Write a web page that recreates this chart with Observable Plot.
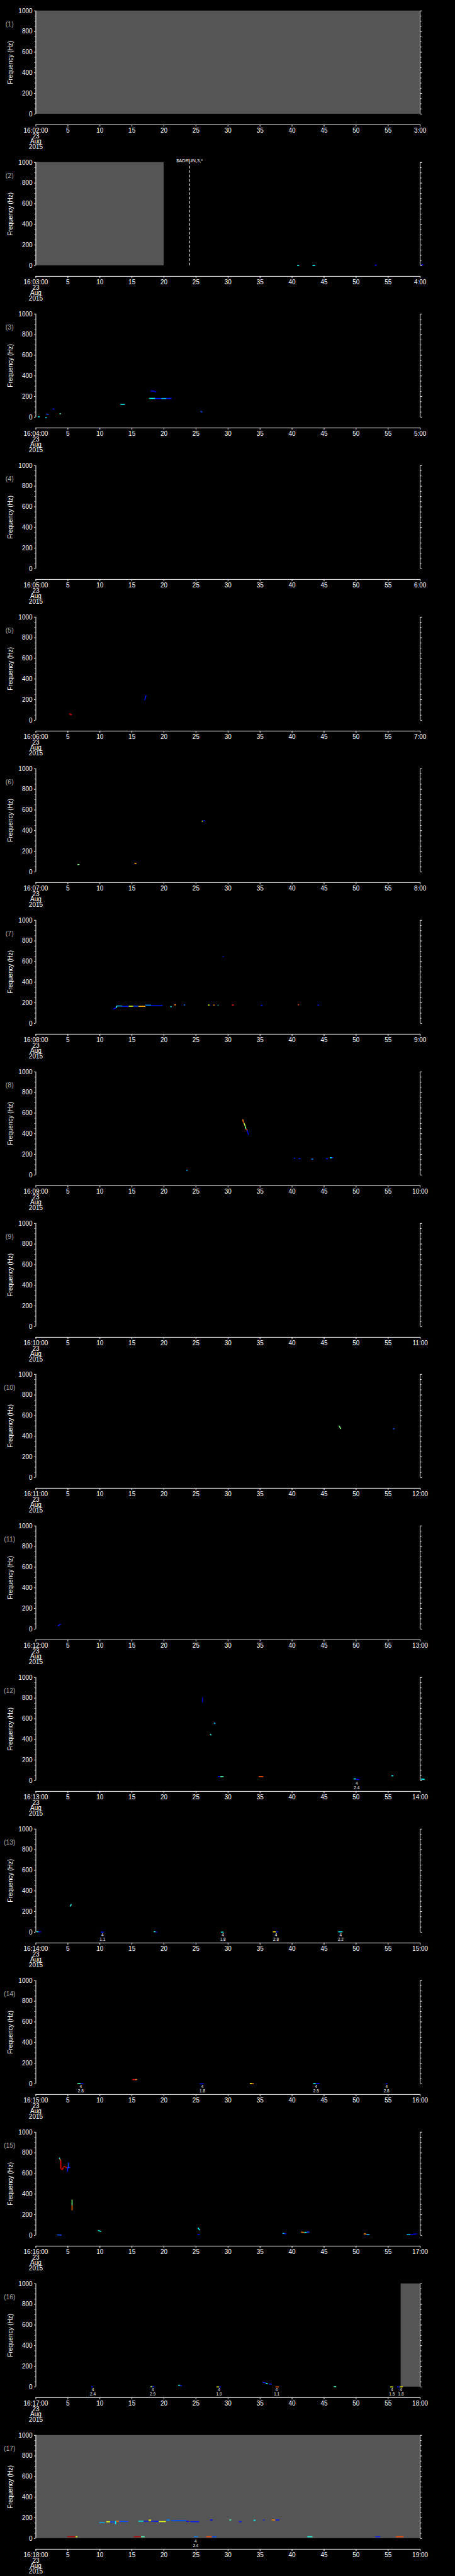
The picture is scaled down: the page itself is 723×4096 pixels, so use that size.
<!DOCTYPE html>
<html><head><meta charset="utf-8">
<script src="https://cdn.jsdelivr.net/npm/d3@7"></script>
<script src="https://cdn.jsdelivr.net/npm/@observablehq/plot@0.6"></script>
<style>
html,body{margin:0;padding:0;background:#000;}
#root{position:relative;width:723px;height:4096px;background:#000;overflow:hidden;}
#root svg{position:absolute;left:0;overflow:visible;}
</style></head><body><div id="root"></div>
<script>
// ---- data ----
const panels = d3.range(1, 18);
const startLabels = ["16:02:00","16:03:00","16:04:00","16:05:00","16:06:00","16:07:00","16:08:00","16:09:00","16:10:00","16:11:00","16:12:00","16:13:00","16:14:00","16:15:00","16:16:00","16:17:00","16:18:00"];
const endLabels = ["3:00","4:00","5:00","6:00","7:00","8:00","9:00","10:00","11:00","12:00","13:00","14:00","15:00","16:00","17:00","18:00","19:00"];
const dateLines = ["23", "Aug", "2015"];
const xTicks = [0,5,10,15,20,25,30,35,40,45,50,55,60];
const yMajor = [0,200,400,600,800,1000];
const yMinor = [50,100,150,250,300,350,450,500,550,650,700,750,850,900,950];
const yLabel = "Frequency (Hz)";

// data gaps (gray), per panel, in seconds
const gapPanel = [1, 2, 16, 17];
const gapStart = [0, 0, 57, 0];
const gapEnd = [60, 20, 60, 60];

// events
const eventPanel = [2];
const eventTime = [24];
const eventText = ["$ADRUN,3,*"];

// markers below the plot: panel, time, upper, lower
const markerRows = [
  [12, 50.1, "4", "2.4"],
  [13, 10.4, "4", "1.1"], [13, 29.2, "4", "1.8"], [13, 37.5, "4", "2.8"], [13, 47.6, "4", "2.2"],
  [14, 7.0, "4", "2.8"], [14, 26.0, "4", "1.8"], [14, 43.75, "4", "2.5"], [14, 54.75, "4", "2.8"],
  [16, 8.9, "4", "2.4"], [16, 18.25, "4", "2.9"], [16, 28.6, "4", "1.0"], [16, 37.6, "4", "1.1"], [16, 55.6, "4", "1.5"], [16, 57.0, "4", "1.8"],
  [17, 24.95, "4", "2.4"]
];

// spectral specks: panel, t1 (s), t2 (s), f1 (Hz), f2 (Hz), intensity (0..1)
const speckRows = [
  [2, 40.8, 41.1, 1, 1, 0.37], [2, 43.2, 43.6, 1, 1, 0.37], [2, 52.9, 53.2, 4, 4, 0.12], [2, 60.2, 60.5, 8, 8, 0.12],
  [3, 0.3, 0.6, 4, 4, 0.37], [3, 1.5, 1.7, -3, -3, 0.37], [3, 1.6, 2.0, 31, 27, 0.2], [3, 2.6, 2.9, 80, 78, 0.12],
  [3, 3.7, 3.9, 31, 36, 0.45], [3, 13.2, 13.9, 125, 125, 0.37], [3, 17.9, 18.5, 253, 253, 0.12], [3, 18.5, 18.8, 253, 242, 0.1],
  [3, 17.7, 18.6, 182, 182, 0.37], [3, 18.6, 19.6, 181, 181, 0.15], [3, 19.6, 20.4, 181, 181, 0.3], [3, 20.4, 21.2, 182, 182, 0.15],
  [3, 25.7, 26.0, 57, 50, 0.2],
  [5, 5.2, 5.6, 64, 52, 0.87], [5, 17.0, 17.1, 195, 215, 0.1], [5, 17.1, 17.2, 215, 244, 0.15],
  [6, 6.5, 6.8, 71, 71, 0.5], [6, 15.4, 15.7, 86, 80, 0.7], [6, 25.9, 26.1, 492, 492, 0.6], [6, 26.1, 26.4, 496, 496, 0.12],
  [7, 12.1, 12.5, 140, 150, 0.12], [7, 12.5, 12.7, 150, 172, 0.37], [7, 12.7, 13.5, 170, 168, 0.3], [7, 13.5, 14.5, 166, 166, 0.15],
  [7, 14.5, 15.2, 167, 167, 0.6], [7, 15.2, 16.0, 168, 168, 0.2], [7, 16.0, 17.1, 166, 166, 0.7], [7, 17.1, 18.0, 177, 177, 0.25],
  [7, 18.0, 19.8, 172, 172, 0.15], [7, 21.0, 21.2, 163, 163, 0.37], [7, 21.6, 21.9, 180, 180, 0.75], [7, 23.1, 23.3, 180, 180, 0.25],
  [7, 26.9, 27.1, 181, 176, 0.6], [7, 27.7, 27.9, 178, 178, 0.75], [7, 28.4, 28.5, 178, 175, 0.4], [7, 30.6, 30.9, 179, 179, 0.85],
  [7, 35.1, 35.4, 174, 174, 0.15], [7, 40.9, 41.1, 182, 182, 0.8], [7, 44.0, 44.2, 178, 178, 0.12], [7, 29.2, 29.3, 646, 652, 0.15],
  [8, 32.3, 32.4, 540, 510, 0.75], [8, 32.4, 32.5, 510, 505, 0.87], [8, 32.5, 32.7, 505, 470, 0.55], [8, 32.7, 32.8, 470, 445, 0.5],
  [8, 32.8, 32.95, 445, 438, 0.85], [8, 32.95, 33.0, 438, 432, 0.45], [8, 33.0, 33.2, 432, 390, 0.1], [8, 23.5, 23.7, 46, 46, 0.3],
  [8, 40.3, 40.5, 163, 163, 0.15], [8, 41.0, 41.3, 159, 159, 0.15], [8, 43.0, 43.3, 154, 154, 0.25], [8, 45.3, 45.6, 158, 158, 0.12],
  [8, 45.9, 46.2, 167, 167, 0.37], [8, 46.2, 46.4, 168, 170, 0.15],
  [10, 47.3, 47.4, 497, 500, 0.5], [10, 47.4, 47.6, 497, 471, 0.5], [10, 55.75, 56.0, 471, 473, 0.2],
  [11, 3.45, 3.9, 33, 47, 0.15],
  [12, 26.0, 26.05, 760, 807, 0.1], [12, 27.8, 28.0, 562, 550, 0.3], [12, 27.2, 27.4, 452, 440, 0.4], [12, 28.4, 28.8, 39, 39, 0.12],
  [12, 28.8, 29.3, 39, 39, 0.45], [12, 34.8, 35.5, 39, 39, 0.8], [12, 49.6, 50.0, 17, 17, 0.37], [12, 50.0, 50.5, 12, 12, 0.12],
  [12, 55.5, 55.8, 47, 47, 0.37], [12, 60.1, 60.7, 16, 12, 0.37],
  [13, 0.1, 0.4, 5, 5, 0.37], [13, 0.4, 0.8, 3, 3, 0.12], [13, 5.35, 5.55, 250, 272, 0.4], [13, 10.1, 10.6, 1, 1, 0.15],
  [13, 18.4, 18.7, 5, 5, 0.4], [13, 18.7, 18.9, 2, 2, 0.12], [13, 28.9, 29.3, 1, 1, 0.37], [13, 37.0, 37.5, 4, 4, 0.65],
  [13, 37.5, 37.8, 3, 3, 0.15], [13, 47.2, 47.9, 4, 4, 0.37],
  [14, 6.5, 7.0, 2, 2, 0.45], [14, 7.0, 7.4, 1, 1, 0.15], [14, 15.1, 15.5, 40, 40, 0.9], [14, 15.5, 15.8, 41, 41, 0.75],
  [14, 25.6, 26.2, 0, 0, 0.12], [14, 33.4, 33.7, 3, 3, 0.63], [14, 33.7, 34.0, 1, 1, 0.75], [14, 43.3, 43.7, 2, 2, 0.37],
  [14, 43.7, 44.3, 1, 1, 0.12], [14, 54.6, 54.9, 0, 0, 0.12],
  [15, 3.65, 3.75, 753, 740, 0.37], [15, 3.75, 3.85, 740, 724, 0.75], [15, 3.9, 3.9, 724, 650, 0.87], [15, 3.9, 4.1, 650, 635, 0.9],
  [15, 4.1, 4.3, 635, 660, 0.9], [15, 4.3, 4.6, 665, 668, 0.9], [15, 4.6, 4.9, 662, 652, 0.9], [15, 4.9, 5.35, 655, 660, 0.15],
  [15, 4.95, 4.95, 655, 617, 0.15], [15, 5.07, 5.07, 705, 650, 0.2], [15, 5.65, 5.65, 346, 290, 0.5], [15, 5.65, 5.65, 290, 243, 0.75],
  [15, 3.3, 4.0, 5, 3, 0.2], [15, 9.7, 10.2, 48, 37, 0.4], [15, 25.3, 25.6, 74, 50, 0.37], [15, 25.2, 25.6, 8, 7, 0.12],
  [15, 38.5, 38.8, 19, 19, 0.3], [15, 38.8, 39.1, 16, 16, 0.15], [15, 41.4, 41.9, 31, 29, 0.75], [15, 41.9, 42.3, 29, 29, 0.37],
  [15, 42.3, 42.7, 32, 32, 0.2], [15, 51.2, 51.6, 15, 13, 0.75], [15, 51.6, 52.1, 10, 7, 0.3], [15, 57.9, 58.5, 10, 10, 0.3],
  [15, 58.5, 59.5, 8, 14, 0.12],
  [16, 8.65, 8.9, 0, 0, 0.12], [16, 17.9, 18.2, 2, 2, 0.55], [16, 18.2, 18.5, 1, 1, 0.15], [16, 22.2, 22.5, 17, 17, 0.37],
  [16, 22.5, 22.8, 14, 14, 0.15], [16, 28.2, 28.6, 0, 0, 0.6], [16, 28.6, 28.9, 0, 0, 0.15], [16, 35.4, 35.9, 43, 40, 0.15],
  [16, 35.9, 36.2, 38, 28, 0.37], [16, 36.4, 36.8, 28, 28, 0.15], [16, 37.4, 37.95, 0, 0, 0.78], [16, 46.5, 46.9, 2, 2, 0.45],
  [16, 55.3, 55.8, 0, 0, 0.6], [16, 56.4, 56.8, 0, 0, 0.15], [16, 56.8, 57.3, 0, 0, 0.63],
  [17, 9.9, 10.8, 155, 152, 0.3], [17, 11.0, 11.6, 162, 162, 0.6], [17, 11.6, 12.4, 160, 160, 0.2], [17, 12.45, 12.45, 140, 170, 0.37],
  [17, 12.5, 13.0, 168, 168, 0.75], [17, 13.0, 14.4, 166, 164, 0.2], [17, 16.0, 16.8, 168, 168, 0.37], [17, 16.8, 17.6, 168, 168, 0.15],
  [17, 17.6, 18.0, 178, 178, 0.63], [17, 18.0, 19.2, 168, 166, 0.15], [17, 19.2, 20.3, 164, 164, 0.6], [17, 20.4, 20.9, 180, 178, 0.25],
  [17, 21.2, 23.5, 173, 173, 0.2], [17, 23.5, 23.9, 168, 164, 0.12], [17, 24.1, 25.5, 163, 163, 0.15], [17, 27.2, 27.6, 180, 180, 0.12],
  [17, 30.2, 30.5, 180, 180, 0.45], [17, 31.7, 32.1, 163, 163, 0.15], [17, 34.0, 34.3, 178, 176, 0.37], [17, 35.5, 35.7, 180, 180, 0.15],
  [17, 36.8, 37.4, 180, 180, 0.75], [17, 37.4, 38.0, 180, 180, 0.15],
  [17, 4.9, 6.2, 17, 17, 0.95], [17, 6.2, 6.5, 17, 17, 0.6], [17, 15.3, 16.4, 17, 17, 0.95], [17, 16.4, 17.0, 17, 17, 0.45],
  [17, 24.7, 25.3, 17, 17, 0.25], [17, 26.6, 27.5, 17, 17, 0.8], [17, 27.5, 28.2, 17, 17, 0.2], [17, 42.4, 43.2, 17, 17, 0.4],
  [17, 53.0, 53.8, 17, 17, 0.15], [17, 56.2, 57.4, 17, 17, 0.8]
];

// jet-like colour table
const jetStops = [0, 0.125, 0.375, 0.5, 0.625, 0.875, 1];
const jetColors = ["#00008f", "#0000ff", "#00ffff", "#80ff80", "#ffff00", "#ff0000", "#800000"];

// ---- layout ----
const S = 4096 / 5802;
const W = 723;
const pitch = (5802 / 17) * S;
const H = 241;
const refLeft = 80, refRight = 945, refTop = 23.8, refZero = 256.2, refAxis = 280.3;

const gaps = gapPanel.map((p, i) => ({panel: p, t1: gapStart[i], t2: gapEnd[i]}));
const events = eventPanel.map((p, i) => ({panel: p, t: eventTime[i], label: eventText[i]}));
const markers = markerRows.map(([panel, t, a, b]) => ({panel, t, text: a + "\n" + b}));
const specks = speckRows.map(([panel, t1, t2, f1, f2, v]) => ({panel, t1, t2, f1, f2, v}));

const root = document.getElementById("root");
const font = "'Liberation Sans', Arial, sans-serif";

panels.forEach((p, i) => {
  const fmt = t => t === 0 ? [startLabels[i], ...dateLines].join("\n") : t === 60 ? endLabels[i] : String(t);
  const svg = Plot.plot({
    width: W,
    height: H,
    marginLeft: refLeft * S,
    marginRight: W - refRight * S,
    marginTop: refTop * S,
    marginBottom: H - refAxis * S,
    style: {background: "#000", color: "#fff", fontFamily: font, fontSize: "10px", overflow: "visible"},
    x: {domain: [0, 60]},
    y: {domain: [0, 1000], range: [refZero * S, refTop * S]},
    color: {type: "linear", domain: jetStops, range: jetColors},
    marks: [
      Plot.rect(gaps.filter(d => d.panel === p), {x1: "t1", x2: "t2", y1: 0, y2: 1000, fill: "#555555"}),
      Plot.link(specks.filter(d => d.panel === p), {x1: "t1", x2: "t2", y1: "f1", y2: "f2", stroke: "v", strokeWidth: 1.6}),
      Plot.ruleX(events.filter(d => d.panel === p), {x: "t", y1: 0, y2: 1000, stroke: "#fff", strokeWidth: 1, strokeDasharray: "4.2,2.8"}),
      Plot.text(events.filter(d => d.panel === p), {x: "t", text: "label", frameAnchor: "top", dy: -6, fill: "#fff", fontSize: 7.5}),
      Plot.ruleX([0, 60], {y1: 0, y2: 1000, stroke: "#fff", strokeWidth: 1}),
      Plot.axisY({ticks: yMajor, tickSize: 2.4, tickPadding: 3, tickFormat: d => String(d), label: null, fontSize: 10}),
      Plot.axisY({ticks: yMinor, tickSize: 1.5, tickFormat: () => "", label: null}),
      Plot.axisY({anchor: "right", ticks: yMajor, tickSize: 2.4, tickFormat: () => "", label: null}),
      Plot.axisY({anchor: "right", ticks: yMinor, tickSize: 1.5, tickFormat: () => "", label: null}),
      Plot.frame({anchor: "bottom", stroke: "#fff", strokeWidth: 1}),
      Plot.axisX({ticks: xTicks, tickSize: 3.3, tickPadding: 3.5, tickFormat: fmt, label: null, fontSize: 10, lineHeight: 0.86}),
      Plot.text(markers.filter(d => d.panel === p), {x: "t", text: "text", frameAnchor: "bottom", lineAnchor: "bottom", dy: -3.5, fontSize: 6.5, lineHeight: 1.0, fill: "#fff"}),
      Plot.text(["(" + p + ")"], {frameAnchor: "top-left", dx: -41.7, dy: 17, textAnchor: "middle", fill: "#aaaaaa", fontSize: 10.5}),
      Plot.text([yLabel], {frameAnchor: "left", dx: -40.3, dy: -8.5, rotate: -90, textAnchor: "middle", fill: "#fff", fontSize: 10})
    ]
  });
  svg.style.top = (i * pitch) + "px";
  root.appendChild(svg);
});
</script>
</body></html>
